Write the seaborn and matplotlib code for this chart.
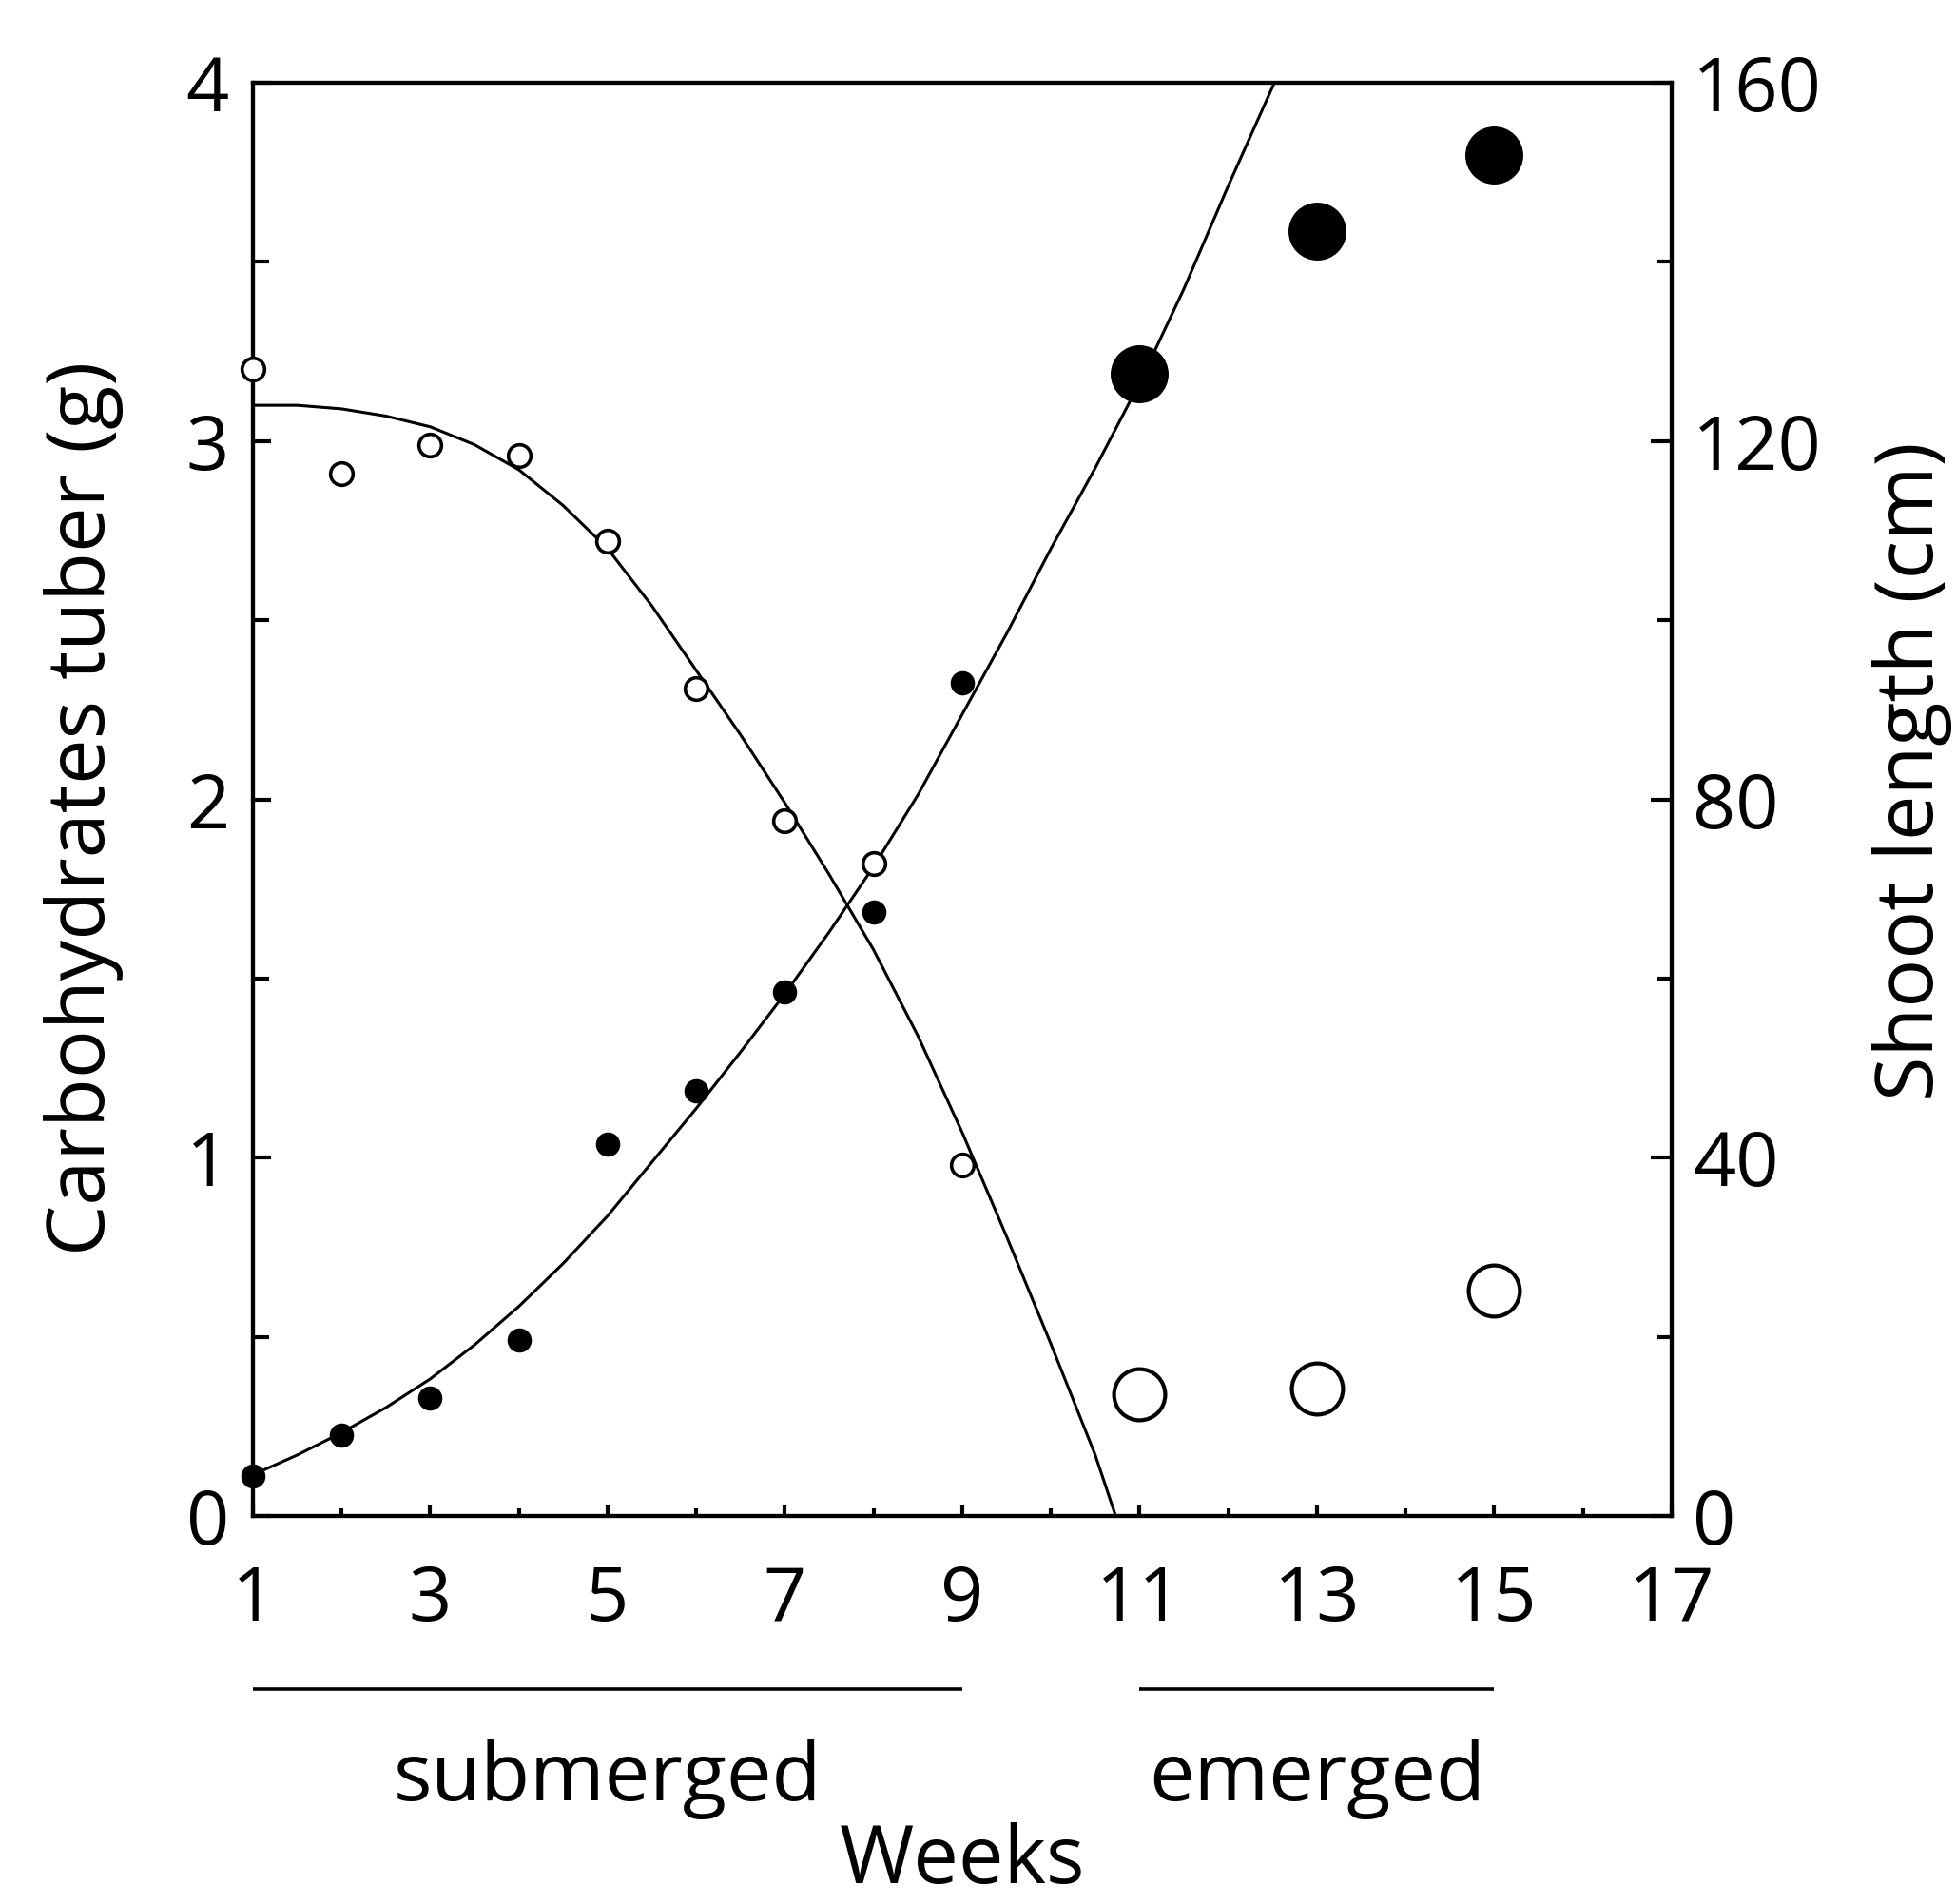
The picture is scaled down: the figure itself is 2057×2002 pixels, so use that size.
import matplotlib
matplotlib.use("Agg")
import matplotlib.pyplot as plt
import seaborn as sns

# measured points, submerged phase (weeks 1-9)
weeks_sub = [1, 2, 3, 4, 5, 6, 7, 8, 9]
carb_sub = [3.20, 2.91, 2.99, 2.96, 2.72, 2.31, 1.94, 1.82, 0.98]
shoot_sub = [4.5, 9.0, 13.2, 19.6, 41.5, 47.5, 58.5, 67.4, 93.0]

# measured points, emerged phase
weeks_em = [11, 13, 15]
carb_em = [0.34, 0.355, 0.63]
shoot_em = [127.5, 143.4, 151.9]

# fitted curves
carb_curve_weeks = [1, 1.5, 2, 2.5, 3, 3.5, 4, 4.5, 5, 5.5, 6, 6.5, 7, 7.5,
                    8, 8.5, 9, 9.5, 10, 10.5, 10.73]
carb_curve = [3.10, 3.10, 3.09, 3.07, 3.04, 2.99, 2.92, 2.82, 2.70, 2.54,
              2.36, 2.18, 1.99, 1.79, 1.58, 1.34, 1.07, 0.78, 0.48, 0.17, 0.0]
shoot_curve_weeks = [1, 1.5, 2, 2.5, 3, 3.5, 4, 4.5, 5, 5.5, 6, 6.5, 7, 7.5,
                     8, 8.5, 9, 9.5, 10, 10.5, 11, 11.5, 12, 12.52]
shoot_curve = [4.6, 6.8, 9.3, 12.1, 15.3, 19.1, 23.4, 28.2, 33.5, 39.5, 45.5,
               51.8, 58.3, 65.2, 72.5, 80.5, 89.5, 98.5, 108, 117, 126.5, 137,
               148.5, 160]

# phases shown under the axis
phase_names = ["submerged", "emerged"]
phase_start = [1, 11]
phase_end = [9, 15]

sns.set_style("ticks")
plt.rcParams["font.family"] = ["Open Sans", "DejaVu Sans"]
plt.rcParams["text.color"] = "black"
plt.rcParams["axes.labelcolor"] = "black"
plt.rcParams["xtick.color"] = "black"
plt.rcParams["ytick.color"] = "black"

LW = 3.0
TICK_FS = 57
LABEL_FS = 61

fig = plt.figure(figsize=(20.57, 20.02), dpi=100)
ax = fig.add_axes([0.1293, 0.2038, 0.7253, 0.7527])
ax2 = ax.twinx()
# keep the open-circle axis on top so white fills cover the other curve
ax.set_zorder(ax2.get_zorder() + 1)
ax.patch.set_visible(False)

# shoot length (right axis)
sns.lineplot(x=shoot_curve_weeks, y=shoot_curve, ax=ax2, color="black",
             lw=2.2, zorder=2)
sns.scatterplot(x=weeks_sub, y=shoot_sub, ax=ax2, color="black",
                edgecolor="black", s=290, zorder=3, clip_on=False)
sns.scatterplot(x=weeks_em, y=shoot_em, ax=ax2, color="black",
                edgecolor="black", s=1650, zorder=3, clip_on=False)

# carbohydrates (left axis)
sns.lineplot(x=carb_curve_weeks, y=carb_curve, ax=ax, color="black",
             lw=2.2, zorder=2)
sns.scatterplot(x=weeks_sub, y=carb_sub, ax=ax, color="white",
                edgecolor="black", linewidth=2.6, s=290, zorder=4,
                clip_on=False)
sns.scatterplot(x=weeks_em, y=carb_em, ax=ax, color="white",
                edgecolor="black", linewidth=3.0, s=1500, zorder=4,
                clip_on=False)

ax.set_xlim(1, 17)
ax.set_ylim(0, 4)
ax2.set_ylim(0, 160)

ax.set_xticks(range(1, 18, 2))
ax.set_xticks(range(2, 17, 2), minor=True)
ax.set_yticks([0, 1, 2, 3, 4])
ax.set_yticks([0.5, 1.5, 2.5, 3.5], minor=True)
ax2.set_yticks([0, 40, 80, 120, 160])
ax2.set_yticks([20, 60, 100, 140], minor=True)

ax.tick_params(axis="x", which="major", direction="in", length=9, width=LW,
               pad=36, labelsize=TICK_FS)
ax.tick_params(axis="x", which="minor", direction="in", length=6, width=LW)
ax.tick_params(axis="y", which="major", direction="in", length=14, width=LW,
               pad=18, labelsize=TICK_FS)
ax.tick_params(axis="y", which="minor", direction="in", length=12, width=LW)
ax2.tick_params(axis="y", which="major", direction="in", length=16, width=LW,
                pad=16, labelsize=TICK_FS)
ax2.tick_params(axis="y", which="minor", direction="in", length=11, width=LW)

for a in (ax, ax2):
    for sp in a.spines.values():
        sp.set_visible(True)
        sp.set_linewidth(LW)
        sp.set_color("black")

ax.set_xlabel("")
ax.set_ylabel("Carbohydrates tuber (g)", fontsize=LABEL_FS, va="center")
ax.yaxis.set_label_coords(-0.119, 0.494)
ax2.set_ylabel("Shoot length (cm)", fontsize=LABEL_FS, va="center")
ax2.yaxis.set_label_coords(1.1696, 0.520)

# phase bars and names under the week axis
xtrans = ax.get_xaxis_transform()
for name, x0, x1 in zip(phase_names, phase_start, phase_end):
    ax.plot([x0, x1], [-0.1208, -0.1208], transform=xtrans, color="black",
            lw=2.6, clip_on=False, solid_capstyle="butt")
    ax.text((x0 + x1) / 2, -0.1984, name, transform=xtrans, ha="center",
            va="baseline", fontsize=LABEL_FS)
ax.text(9, -0.256, "Weeks", transform=xtrans, ha="center", va="baseline",
        fontsize=LABEL_FS)

fig.savefig("out.png", dpi=100, facecolor="white")
